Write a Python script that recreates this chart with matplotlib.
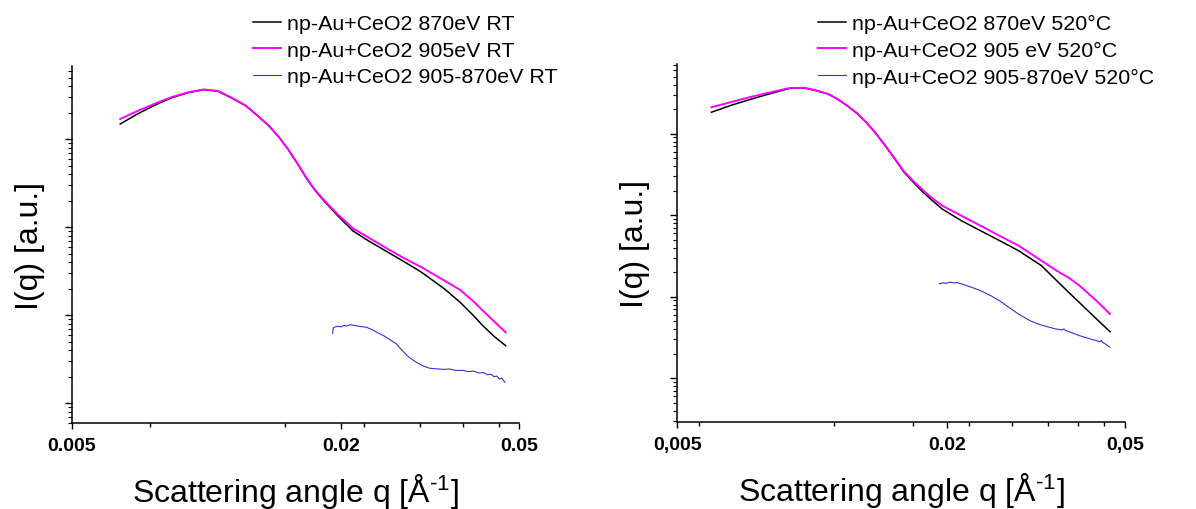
import matplotlib
matplotlib.use("Agg")
import matplotlib.pyplot as plt
from matplotlib.ticker import NullFormatter, LogLocator, FixedLocator

plt.rcParams['font.family'] = ['Liberation Sans', 'DejaVu Sans']
plt.rcParams['mathtext.fontset'] = 'custom'
plt.rcParams['mathtext.rm'] = 'Liberation Sans'
plt.rcParams['mathtext.it'] = 'Liberation Sans:italic'

# --------------------------------------------
# data (I in arbitrary units)
# --------------------------------------------
# left panel: RT
q_rt = [0.00642, 0.0070, 0.00763, 0.0080, 0.00842, 0.0091, 0.00986, 0.0106, 0.01132,
        0.01224, 0.0130, 0.01378, 0.0145, 0.01521, 0.0160, 0.01678, 0.0175, 0.01816,
        0.01965, 0.02125, 0.02299, 0.0250, 0.02745, 0.03029, 0.03409, 0.0369, 0.0395,
        0.0415, 0.0440, 0.04667]
i_rt_870 = [1493, 1928, 2410, 2692, 2999, 3388, 3664, 3532, 2999,
            2410, 1862, 1429, 1072, 776, 525, 354, 263, 210,
            136, 91.4, 70.5, 55.0, 41.7, 30.8, 19.9, 14.1, 10.0,
            7.62, 5.75, 4.52]
i_rt_905 = [1702, 2089, 2512, 2767, 3048, 3412, 3681, 3548, 3013,
            2421, 1871, 1436, 1076, 780, 527, 356, 266, 214,
            141, 97.7, 76.9, 59.7, 45.6, 35.1, 24.7, 19.5, 14.5,
            11.3, 8.51, 6.41]
q_rt_diff = [0.01915, 0.01922, 0.01928, 0.0197, 0.0200, 0.0203, 0.0206, 0.0210, 0.0213,
             0.0217, 0.0221, 0.0228, 0.0235, 0.0242, 0.0249, 0.0257, 0.0266, 0.0273,
             0.0281, 0.0288, 0.0295, 0.0305, 0.0316, 0.0326, 0.0338, 0.0350, 0.0362,
             0.0374, 0.0385, 0.0396, 0.0407, 0.0416, 0.0425, 0.0433, 0.0440, 0.0446,
             0.0452, 0.0458, 0.0463, 0.04655]
i_rt_diff = [6.24, 7.08, 7.31, 7.50, 7.38, 7.67, 7.55, 7.82, 7.69,
             7.59, 7.45, 7.31, 6.84, 6.31, 5.87, 5.31, 4.73, 4.07,
             3.48, 3.16, 2.92, 2.66, 2.50, 2.47, 2.43, 2.45, 2.36,
             2.37, 2.29, 2.32, 2.21, 2.24, 2.11, 2.14, 2.00, 2.04,
             1.88, 1.93, 1.78, 1.73]

# right panel: 520°C
q_hot = [0.00596, 0.0066, 0.00733, 0.0081, 0.00892, 0.00964, 0.0102, 0.01085, 0.0114,
         0.01197, 0.0126, 0.0132, 0.0139, 0.01456, 0.0153, 0.01605, 0.0169, 0.01771,
         0.0186, 0.01954, 0.02154, 0.02377, 0.0262, 0.02891, 0.03253, 0.03517, 0.0375,
         0.03956, 0.0430, 0.04628]
i_hot_870 = [1837, 2239, 2673, 3126, 3614, 3631, 3388, 3076, 2661,
             2213, 1778, 1384, 1000, 714, 490, 337, 248, 191,
             150, 119, 85.9, 64.7, 49.0, 36.8, 24.1, 15.8, 11.2,
             8.47, 5.46, 3.73]
i_hot_905 = [2113, 2455, 2851, 3236, 3648, 3656, 3412, 3090, 2673,
             2223, 1786, 1390, 1007, 721, 497, 344, 257, 202,
             160, 131, 98.9, 74.5, 56.2, 42.4, 27.7, 20.9, 17.0,
             13.7, 9.12, 6.15]
q_hot_diff = [0.01926, 0.0196, 0.0199, 0.02032, 0.0207, 0.0211, 0.02154, 0.0225, 0.02377,
              0.0250, 0.02621, 0.0275, 0.02891, 0.03066, 0.0322, 0.03382, 0.0350, 0.03624,
              0.0365, 0.0368, 0.03956, 0.0420, 0.0440, 0.0443, 0.04452, 0.0455, 0.04628]
i_hot_diff = [14.4, 14.8, 14.6, 15.1, 14.8, 14.9, 14.4, 13.3, 11.9,
              10.4, 8.95, 7.41, 6.15, 5.09, 4.57, 4.23, 4.03, 3.92,
              4.03, 3.87, 3.33, 3.02, 2.80, 2.92, 2.77, 2.57, 2.40]

labels_rt = ['np-Au+CeO2 870eV RT', 'np-Au+CeO2 905eV RT', 'np-Au+CeO2 905-870eV RT']
labels_hot = ['np-Au+CeO2 870eV 520°C', 'np-Au+CeO2 905 eV 520°C', 'np-Au+CeO2 905-870eV 520°C']

xticks = [0.005, 0.02, 0.05]
xticklabels_rt = ['0.005', '0.02', '0.05']
xticklabels_hot = ['0,005', '0.02', '0,05']
xminor_rt = [0.0075, 0.015, 0.0225, 0.03, 0.0375, 0.045]
xminor_hot = [0.0056, 0.0112, 0.0168, 0.0224, 0.028, 0.0336, 0.0392, 0.0448]

COL_870 = '#000000'
COL_905 = '#ff00ff'
COL_DIFF = '#3434d4'

W, H = 1196, 510
fig = plt.figure(figsize=(W / 100, H / 100), dpi=100)


def px_rect(x0, x1, ytop, ybot):
    return [x0 / W, 1 - ybot / H, (x1 - x0) / W, (ybot - ytop) / H]


def draw_panel(rect, q, i870, i905, qd, idiff, labels, ticklabels, minor, ylim, leg_xy, xlabelpad):
    ax = fig.add_axes(rect)
    ax.plot(q, i870, color=COL_870, lw=1.1, label=labels[0])
    ax.plot(q, i905, color=COL_905, lw=1.4, label=labels[1])
    ax.plot(qd, idiff, color=COL_DIFF, lw=0.8, label=labels[2])

    ax.set_xscale('log')
    ax.set_yscale('log')
    ax.set_xlim(0.005, 0.05)
    ax.set_ylim(*ylim)

    ax.xaxis.set_major_locator(FixedLocator(xticks))
    ax.set_xticklabels(ticklabels)
    ax.xaxis.set_minor_locator(FixedLocator(minor))
    ax.xaxis.set_minor_formatter(NullFormatter())
    ax.yaxis.set_major_locator(LogLocator(base=10))
    ax.yaxis.set_minor_locator(LogLocator(base=10, subs=range(2, 10)))
    ax.yaxis.set_major_formatter(NullFormatter())
    ax.yaxis.set_minor_formatter(NullFormatter())

    for s in ['top', 'right']:
        ax.spines[s].set_visible(False)
    for s in ['left', 'bottom']:
        ax.spines[s].set_linewidth(1.1)

    ax.tick_params(axis='x', which='major', direction='out', length=4.5, width=1.0, pad=5.5)
    ax.tick_params(axis='x', which='minor', direction='out', length=3, width=1.0)
    ax.tick_params(axis='y', which='major', direction='out', length=5, width=1.0)
    ax.tick_params(axis='y', which='minor', direction='out', length=3, width=0.8)
    for t in ax.get_xticklabels():
        t.set_fontsize(14)
        t.set_fontweight('bold')

    ax.set_xlabel(r'Scattering angle q [Å$^{\text{-1}}$]', fontsize=23, labelpad=xlabelpad)
    ax.set_ylabel('I(q) [a.u.]', fontsize=23, labelpad=11)

    ax.legend(loc='upper left', bbox_to_anchor=leg_xy, bbox_transform=fig.transFigure,
              frameon=False, fontsize=15.4, borderpad=0, borderaxespad=0,
              handlelength=1.3, handletextpad=0.3, labelspacing=0.36)
    return ax


draw_panel(px_rect(71.7, 519, 67, 424), q_rt, i_rt_870, i_rt_905, q_rt_diff, i_rt_diff,
           labels_rt, xticklabels_rt, xminor_rt, (0.597, 6808), (253 / W, 1 - 15 / H), 12)
draw_panel(px_rect(677.3, 1125, 65, 423.3), q_hot, i_hot_870, i_hot_905, q_hot_diff, i_hot_diff,
           labels_hot, xticklabels_hot, xminor_hot, (0.288, 7178), (818 / W, 1 - 15 / H), 12)

fig.savefig('out.png', dpi=100)
